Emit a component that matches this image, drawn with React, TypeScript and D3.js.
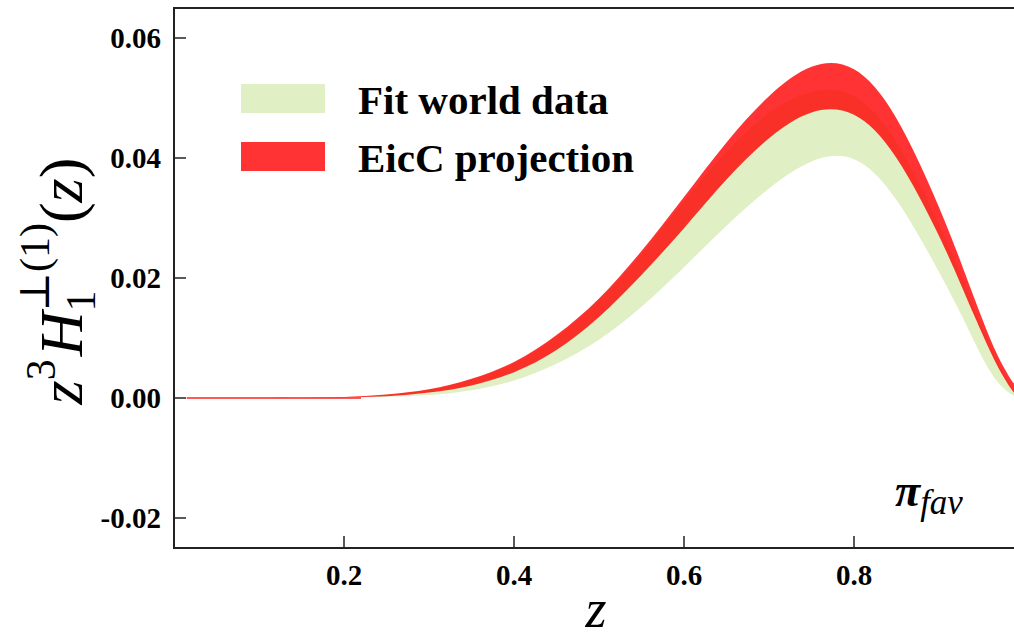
import * as d3 from "d3";

// z grid and band edges
const zGrid = [0.015, 0.05, 0.1, 0.15, 0.2, 0.25, 0.3, 0.35, 0.4, 0.45, 0.5, 0.55, 0.6, 0.65, 0.7, 0.75, 0.8, 0.85, 0.9, 0.93, 0.95, 0.97, 0.99, 1.0];
const fitHi = [0, 0, 0.00001, 0.00004, 0.00017, 0.00055, 0.0014, 0.0031, 0.0058, 0.0102, 0.0163, 0.024, 0.0328, 0.041, 0.0475, 0.051, 0.0503, 0.0426, 0.029, 0.019, 0.012, 0.0058, 0.001, 0];
const fitLo = [0, 0, 0, 0.00002, 0.00006, 0.0002, 0.0005, 0.0013, 0.0029, 0.0057, 0.0097, 0.0152, 0.0218, 0.0287, 0.0349, 0.0394, 0.0398, 0.033, 0.021, 0.0128, 0.007, 0.0025, 0.0002, 0];
const eicHi = [0, 0, 0.00001, 0.00005, 0.00018, 0.0006, 0.00145, 0.0032, 0.006, 0.0105, 0.0166, 0.0245, 0.0335, 0.0426, 0.0503, 0.0552, 0.0548, 0.0466, 0.0318, 0.021, 0.0135, 0.0068, 0.002, 0.0005];
const eicLo = [0, 0, 0, 0.00003, 0.0001, 0.0003, 0.0009, 0.0021, 0.0043, 0.008, 0.0135, 0.0205, 0.0283, 0.0364, 0.0433, 0.0476, 0.0472, 0.04, 0.027, 0.0175, 0.011, 0.005, 0.0006, 0];

const xTicks = [0.2, 0.4, 0.6, 0.8];
const yTicks = [-0.02, 0.0, 0.02, 0.04, 0.06];
const legendLabels = ["Fit world data", "EicC projection"];

const W = 1014;
const H = 640;
const left = 174;
const top = 8;
const plotW = 850;
const plotH = 540;

const GREEN = "#e0efc4";
const RED = "rgba(255,0,0,0.8)";

export default function App() {
  const x = d3.scaleLinear().domain([0, 1]).range([left, left + plotW]);
  const y = d3.scaleLinear().domain([-0.025, 0.065]).range([top + plotH, top]);

  const band = (lo: number[], hi: number[]) =>
    d3
      .area<number>()
      .x((_, i) => x(zGrid[i]))
      .y0((_, i) => y(lo[i]))
      .y1((_, i) => y(hi[i]))
      .curve(d3.curveNatural)(zGrid) || "";

  const serif = "'Liberation Serif', 'DejaVu Serif', serif";

  return (
    <svg width={W} height={H} style={{ position: "absolute", left: 0, top: 0, background: "#fff" }}>
      <defs>
        <clipPath id="plot">
          <rect x={left} y={top} width={plotW} height={plotH} />
        </clipPath>
      </defs>

      <g clipPath="url(#plot)">
        <path d={band(fitLo, fitHi)} fill={GREEN} />
        <path d={band(eicLo, eicHi)} fill={RED} />
        <line x1={x(0.015)} x2={x(0.22)} y1={y(0)} y2={y(0)} stroke="#ff2020" strokeWidth={1.3} />
      </g>

      {/* frame */}
      <rect x={left} y={top} width={plotW} height={plotH} fill="none" stroke="#222" strokeWidth={2} />

      {/* ticks */}
      {xTicks.map((t) => (
        <g key={"x" + t}>
          <line x1={x(t)} x2={x(t)} y1={top + plotH} y2={top + plotH - 12} stroke="#222" strokeWidth={1.5} />
          <text x={x(t)} y={585} textAnchor="middle" fontFamily={serif} fontWeight="bold" fontSize={29}>
            {t.toFixed(1)}
          </text>
        </g>
      ))}
      {yTicks.map((t) => (
        <g key={"y" + t}>
          <line x1={left} x2={left + 12} y1={y(t)} y2={y(t)} stroke="#222" strokeWidth={1.5} />
          <text x={161} y={y(t) + 10} textAnchor="end" fontFamily={serif} fontWeight="bold" fontSize={29}>
            {t.toFixed(2)}
          </text>
        </g>
      ))}

      {/* legend */}
      {legendLabels.map((l, i) => (
        <g key={l}>
          <rect x={241} y={84 + i * 58} width={84} height={29} fill={i === 0 ? GREEN : RED} />
          <text x={358} y={114 + i * 58} fontFamily={serif} fontWeight="bold" fontSize={41}>
            {l}
          </text>
        </g>
      ))}

      {/* pi_fav annotation */}
      <text x={895} y={506} fontFamily={serif}>
        <tspan fontStyle="italic" fontWeight="bold" fontSize={46}>π</tspan>
        <tspan fontStyle="italic" fontSize={35} dy={8}>fav</tspan>
      </text>

      {/* axis labels */}
      <text x={596} y={627} textAnchor="middle" fontFamily={serif} fontStyle="italic" fontSize={54}>
        z
      </text>
      <text transform="translate(82,281) rotate(-90)" textAnchor="middle" fontFamily={serif} fontSize={62}>
        <tspan fontStyle="italic">z</tspan>
        <tspan fontSize={42} dy={-27}>3</tspan>
        <tspan fontStyle="italic" dy={27} dx={3}>H</tspan>
        <tspan fontSize={42} dy={13}>1</tspan>
        <tspan fontSize={42} dx={-21} dy={-46}>⊥(1)</tspan>
        <tspan dy={33}>(</tspan>
        <tspan fontStyle="italic">z</tspan>
        <tspan>)</tspan>
      </text>
    </svg>
  );
}
